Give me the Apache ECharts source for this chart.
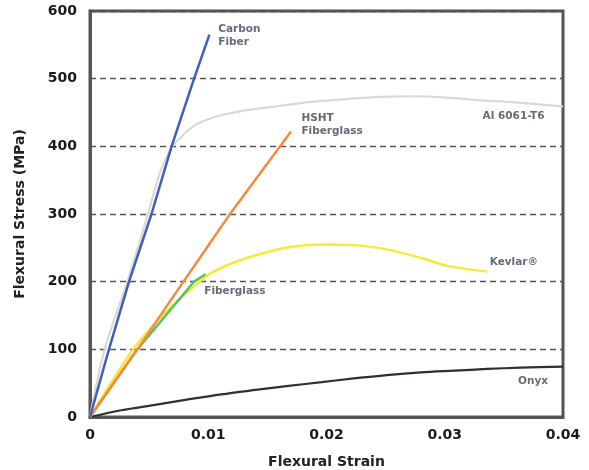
<!DOCTYPE html>
<html><head><meta charset="utf-8">
<script src="https://cdn.jsdelivr.net/npm/echarts@6/dist/echarts.min.js"></script>
<style>html,body{margin:0;padding:0;background:#fff}#c{width:589px;height:470px}</style>
</head><body><div id="c"></div>
<script>
const xTicks = [0, 0.01, 0.02, 0.03, 0.04];
const yTicks = [0, 100, 200, 300, 400, 500, 600];

const carbonStrain = [0, 0.0016, 0.0033, 0.0052, 0.0069, 0.0088, 0.0101];
const carbonStress = [0, 100, 200, 300, 400, 500, 565];

const alStrain = [0, 0.00124, 0.00316, 0.0049, 0.0059, 0.00695, 0.00774, 0.0083, 0.0094, 0.0111, 0.0134, 0.0161, 0.0189, 0.0218, 0.0246, 0.0274, 0.0302, 0.0331, 0.0359, 0.04];
const alStress = [0, 100, 200, 300, 360, 400, 414, 424, 436, 446, 454, 460, 466, 470, 473, 474, 472, 468, 465, 459];

const hshtStrain = [0, 0.004, 0.0079, 0.01184, 0.0170];
const hshtStress = [0, 100, 200, 300, 422];

const kevlarStrain = [0, 0.0035, 0.00548, 0.00718, 0.0086, 0.01, 0.0117, 0.014, 0.0168, 0.0196, 0.0224, 0.0253, 0.0281, 0.0303, 0.0336];
const kevlarStress = [0, 96.5, 138, 168, 190, 210, 225, 239, 251, 255, 254, 247, 234.5, 223, 215];

const fiberStrain = [0, 0.004, 0.0088, 0.00977];
const fiberStress = [0, 100, 200, 211];

const onyxStrain = [0, 0.00265, 0.0055, 0.0083, 0.0111, 0.014, 0.0168, 0.0196, 0.0223, 0.0251, 0.028, 0.0308, 0.0336, 0.0364, 0.04];
const onyxStress = [0, 10, 18, 26, 33.5, 40, 46, 51.5, 57, 62, 66, 68.5, 71, 73, 74.5];

const labelTexts = ['Carbon\nFiber', 'Al 6061-T6', 'HSHT\nFiberglass', 'Kevlar®', 'Fiberglass', 'Onyx'];
const labelStrain = [0.01085, 0.0332, 0.01788, 0.0338, 0.00966, 0.0362];
const labelStress = [563, 445, 432, 229, 186, 53];

const zip = (a, b) => a.map((v, i) => [v, b[i]]);
const FONT = '"DejaVu Sans", sans-serif';

function mk(name, xs, ys, color, smooth, z, w) {
  return {
    type: 'line', name: name, data: zip(xs, ys), smooth: smooth,
    showSymbol: false, symbol: 'none', z: z, silent: true,
    lineStyle: { color: color, width: w || 2.5 }
  };
}

const chart = echarts.init(document.getElementById('c'));
chart.setOption({
  animation: false,
  grid: { left: 90, right: 26, top: 11, bottom: 53, containLabel: false, outerBoundsMode: 'none',
    show: true, borderColor: '#555', borderWidth: 3, backgroundColor: 'transparent' },
  xAxis: {
    type: 'value', min: xTicks[0], max: xTicks[xTicks.length - 1], interval: 0.01,
    name: 'Flexural Strain', nameLocation: 'middle', nameGap: 38,
    nameTextStyle: { fontFamily: FONT, fontWeight: 'bold', fontSize: 14, color: '#222' },
    axisLine: { show: true, lineStyle: { color: '#555', width: 3 } },
    axisTick: { show: false },
    splitLine: { show: false },
    axisLabel: { margin: 11, fontFamily: FONT, fontWeight: 'bold', fontSize: 14, color: '#1a1a1a',
      formatter: v => String(+v.toFixed(4)) }
  },
  yAxis: {
    type: 'value', min: yTicks[0], max: yTicks[yTicks.length - 1], interval: 100,
    name: 'Flexural Stress (MPa)', nameLocation: 'middle', nameGap: 63,
    nameTextStyle: { fontFamily: FONT, fontWeight: 'bold', fontSize: 14, color: '#222' },
    axisLine: { show: true, lineStyle: { color: '#555', width: 3 } },
    axisTick: { show: false },
    splitLine: { show: true, lineStyle: { color: '#555', width: 1.3, type: [6, 4] } },
    axisLabel: { margin: 13, fontFamily: FONT, fontWeight: 'bold', fontSize: 14, color: '#1a1a1a' }
  },
  series: [
    mk('Al 6061-T6', alStrain, alStress, '#d9d9d9', 0.3, 2, 2.2),
    mk('Onyx', onyxStrain, onyxStress, '#2f2f3a', 0.3, 3, 2.2),
    mk('Kevlar', kevlarStrain, kevlarStress, '#f7e93a', 0.3, 4),
    mk('Fiberglass', fiberStrain, fiberStress, '#5cbf6a', 0, 5),
    mk('HSHT Fiberglass', hshtStrain, hshtStress, '#f58b3c', 0, 6),
    mk('Carbon Fiber', carbonStrain, carbonStress, '#3f5fb8', 0, 7)
  ]
});

const labels = labelTexts.map((t, i) => {
  const p = chart.convertToPixel({ gridIndex: 0 }, [labelStrain[i], labelStress[i]]);
  return {
    type: 'text', x: p[0], y: p[1], z: 100, silent: true,
    style: { text: t, fill: '#666a78', font: 'bold 10.5px ' + FONT, lineHeight: 13,
      align: 'left', verticalAlign: 'middle' }
  };
});
chart.setOption({ graphic: labels });
</script></body></html>
